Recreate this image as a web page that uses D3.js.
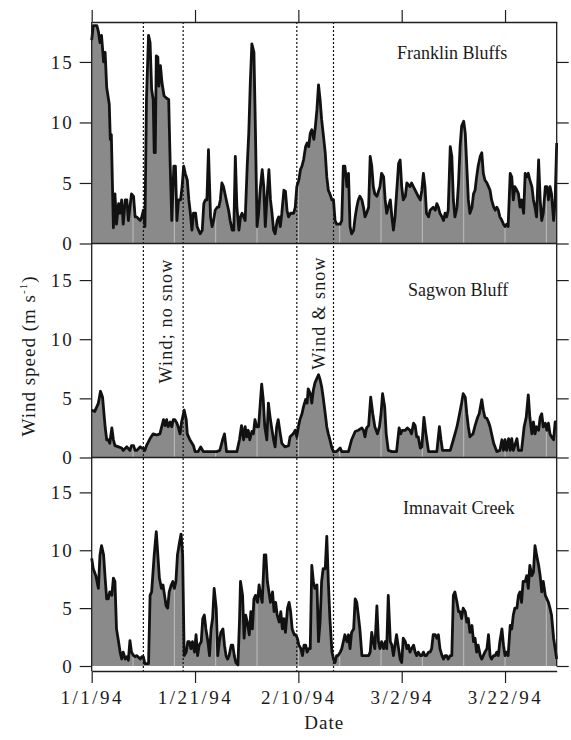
<!DOCTYPE html>
<html><head><meta charset="utf-8">
<script src="https://cdn.jsdelivr.net/npm/d3@7"></script>
<style>
body{margin:0;background:#fff}
svg{display:block}
text{font-family:"Liberation Serif","Times New Roman",serif;fill:#1a1a1a}
</style>
</head><body><svg id="chart" width="571" height="740"></svg>
<script>
// ---------- data ----------
const startUTC = Date.UTC(1994, 0, 1);
const endDay = 90;
const tickDays = [0, 20, 40, 60, 80];
const tickLabels = ["1/1/94", "1/21/94", "2/10/94", "3/2/94", "3/22/94"];
const yTicks = [0, 5, 10, 15];
const eventDays = [10.0, 17.7, 39.7, 46.8];
const gridDays = [8, 16, 24, 32, 40, 48, 56, 64, 72, 80, 88];
const stationNames = ["Franklin Bluffs", "Sagwon Bluff", "Imnavait Creek"];
const eventLabels = ["Wind; no snow", "Wind & snow"];
const yTitle = "Wind speed (m s";
const yTitleSup = "-1";
const xTitle = "Date";

// [day since 1/1/94, wind speed m/s]
const franklin = [[0,16.8],[0.3,18],[1,18],[1.3,17.5],[1.6,16.6],[1.9,17.2],[2.3,15],[2.6,15.8],[2.9,12.9],[3.4,11.5],[3.6,8.6],[3.8,9],[4.2,1.3],[4.5,4.1],[4.8,1.6],[5.2,3.3],[5.5,2.5],[5.8,3.6],[6.1,1.6],[6.5,3.6],[6.8,3.6],[7.1,1.9],[7.4,3],[7.7,4.1],[8.1,3.9],[8.4,2.2],[8.7,2.2],[9.4,1.9],[9.7,2.2],[10,2.75],[10.3,1.4],[10.6,11.9],[11,17.2],[11.3,16.6],[11.6,12.75],[11.9,11.9],[12.1,7.5],[12.3,7.5],[12.5,15.5],[12.8,15.4],[13,13],[13.3,14.7],[13.6,13.3],[14,12.2],[14.5,12],[14.9,11.9],[15.2,6.4],[15.5,1.9],[15.9,6.4],[16.2,6.4],[16.5,1.9],[16.8,3.6],[17.2,3.6],[17.5,4.7],[17.8,6.4],[18.1,5.8],[18.5,5.25],[18.8,3.6],[19.1,2.5],[19.4,1.1],[19.7,2.5],[20.1,2.5],[20.4,1.4],[20.7,1.1],[21,0.8],[21.4,1.1],[21.7,3.3],[22,3.6],[22.3,3.6],[22.6,7.75],[23,2.2],[23.3,1.4],[23.6,1.9],[23.9,2.75],[24.3,3],[24.6,3],[24.9,3.6],[25.2,5],[25.5,4.7],[25.9,3.9],[26.2,3.3],[26.5,2.75],[26.8,1.9],[27.2,1.1],[27.5,1.1],[27.8,7.2],[28.1,3],[28.5,1.1],[28.8,2.2],[29.1,2.5],[29.4,2.2],[29.7,1.9],[30.1,6.4],[30.4,9.1],[30.7,13.3],[31,16.5],[31.4,15.8],[31.7,9.1],[32,1.4],[32.3,2.5],[32.6,4.4],[33,6.1],[33.3,4.7],[33.6,1.4],[33.9,3.6],[34.3,6.1],[34.6,3.6],[34.9,2.5],[35.2,1.1],[35.5,0.8],[35.9,1.9],[36.2,2.2],[36.5,1.4],[36.8,2.5],[37.2,4.4],[37.5,4.3],[37.8,2.75],[38.1,2.2],[38.5,2.5],[39.1,2.5],[39.4,3],[39.7,4.7],[40.1,5.25],[40.4,6.1],[40.7,6.4],[41,6.9],[41.4,8],[41.7,8.3],[42,8],[42.3,9.1],[42.6,9.4],[43,8.6],[43.3,9.7],[43.6,11.1],[43.9,13.1],[44.2,11.9],[44.5,10.25],[44.8,9.1],[45.2,7.5],[45.5,5.5],[45.8,4.4],[46.1,4.1],[46.5,3.6],[46.8,3.6],[47.1,1.9],[47.4,1.6],[48.1,1.6],[48.4,1.9],[48.7,6.4],[49,6.4],[49.4,4.7],[49.7,5.8],[50,1.4],[50.3,0.8],[50.7,1.1],[51,2.2],[51.3,3],[51.6,3.6],[51.9,3.9],[52.3,3.6],[52.6,3],[52.9,2.2],[53.2,2.5],[53.6,3],[53.9,7.2],[54.2,6.4],[54.5,4.7],[54.8,4.1],[55.2,3.9],[55.8,4.7],[56.1,5.8],[56.5,5.5],[56.8,3.6],[57.1,2.5],[57.4,3],[57.8,3.6],[58.1,2.2],[58.4,1.1],[58.7,2.2],[59,4.1],[59.4,6.6],[59.7,6.9],[60,4.7],[60.3,3.6],[60.7,3.9],[61,5],[61.6,4.7],[61.9,5],[62.6,4.4],[63.2,3.9],[63.6,3.6],[63.9,4.4],[64.2,5.8],[64.5,4.7],[64.8,2.5],[65.2,2.2],[65.5,2.75],[66.1,3],[66.5,2.75],[66.8,3.3],[67.1,3],[67.4,2.5],[67.8,2.2],[68.1,1.9],[68.4,2.5],[68.7,2.2],[69,2.75],[69.4,8],[69.7,7.2],[70,3.6],[70.3,2.2],[70.7,3],[71,5],[71.3,8],[71.6,9.7],[72,10.1],[72.3,9.1],[72.6,6.4],[72.9,3.6],[73.2,2.5],[73.6,3],[73.9,4.1],[74.2,4.4],[74.5,5.5],[74.8,6.4],[75.2,7.2],[75.5,7.5],[75.8,5.8],[76.1,5.25],[76.5,5],[76.8,4.7],[77.1,4.4],[77.4,3.6],[77.8,3],[78.1,2.75],[78.4,3],[78.7,2.75],[79,2.2],[79.4,1.9],[79.7,1.6],[80,1.4],[80.3,1.6],[80.6,1.4],[81,5.8],[81.3,5.5],[81.6,3.6],[81.9,4.7],[82.3,4.4],[82.6,4.1],[82.9,3],[83.2,3.6],[83.6,2.5],[83.9,5.8],[84.2,5.5],[84.5,5.8],[84.8,5.25],[85.2,4.7],[85.5,3.6],[85.8,3],[86.1,2.2],[86.5,6.9],[86.8,3.6],[87.1,1.9],[87.4,2.5],[87.8,4.7],[88.1,4.7],[88.4,3.6],[88.7,4.7],[89,4.1],[89.4,1.9],[89.7,3.6],[90,8.3]];

const sagwon = [[0,4],[0.6,3.9],[1.3,4.6],[1.7,5.6],[2.1,5.1],[2.6,2.6],[2.9,1.5],[3.2,1.5],[3.5,1.2],[3.9,2.5],[4.2,1.5],[4.5,1],[5.2,0.9],[5.8,0.8],[6.1,0.6],[6.8,0.9],[7.4,0.6],[7.7,1],[8.1,1],[8.4,0.6],[8.7,0.6],[9.4,0.9],[9.7,0.8],[10,0.8],[10.3,0.6],[10.6,1],[11.3,1.6],[11.9,2],[12.6,1.9],[13.2,2],[13.9,3.2],[14.2,2.7],[14.5,3.2],[14.8,2.6],[15.2,3],[15.5,2.6],[15.8,3.2],[16.1,3.2],[16.5,2.9],[16.8,2.5],[17.1,2],[17.4,3],[17.9,4],[18.3,3.2],[18.5,2],[19,1.5],[19.7,1],[20,0.5],[20.6,0.5],[21.1,0.9],[21.6,0.5],[22.9,0.5],[24.2,0.5],[24.8,0.6],[25.4,1.6],[25.7,2],[26.1,0.5],[27.4,0.5],[28.1,0.5],[28.6,1.5],[29,2.7],[29.4,1.5],[29.7,2.6],[30,1.75],[30.3,2.3],[30.6,1.5],[31,2.2],[31.3,2],[31.6,3.2],[31.9,2.6],[32.3,2.6],[32.6,4.4],[32.9,6.2],[33.2,4.9],[33.5,2.6],[33.9,1.5],[34.2,4.6],[34.5,3.5],[34.8,2.6],[35.2,1.5],[35.5,0.9],[35.8,2.6],[36.1,3.2],[36.5,2],[36.8,1.2],[37.4,0.9],[38.1,1],[38.4,1.75],[39,2],[39.4,2.3],[39.7,1.75],[40,2.6],[40.3,3.2],[40.7,3.7],[41,4.3],[41.4,4.9],[41.7,4.6],[41.9,5.8],[42.3,5.4],[42.6,4.6],[42.9,5.7],[43.2,6.3],[43.5,6.6],[43.9,7],[44.2,6.6],[44.5,6],[44.8,5.1],[45.2,3.7],[45.5,2.6],[45.8,2],[46.1,1.5],[46.5,0.8],[46.8,0.5],[47.4,0.5],[48.1,0.8],[48.4,0.5],[49.7,0.5],[50.3,1.5],[51,2.2],[51.6,2.3],[52.3,2.5],[52.6,2.3],[52.9,1.75],[53.2,2.5],[53.6,2.7],[54,5.1],[54.4,3.7],[54.8,2.6],[55.3,2],[55.7,2.6],[56,3.7],[56.3,5.4],[56.7,4.3],[57,2],[57.4,0.6],[58.1,0.5],[59,0.5],[59.5,2.5],[59.8,2],[60.1,2.3],[60.7,2.3],[61.1,2.5],[61.6,2.3],[61.9,2],[62.3,2.9],[62.6,2.7],[62.9,1.75],[63.2,1.75],[63.6,0.8],[63.9,0.9],[64.3,3.4],[64.7,2],[65.2,0.5],[66.1,0.5],[66.8,0.5],[67.3,2.6],[67.6,1.5],[67.9,0.6],[68.7,0.6],[69.4,0.6],[70,1.5],[70.7,2.6],[71.2,3.7],[71.6,4.6],[71.9,5.4],[72.3,5.1],[72.6,3.7],[72.9,2.6],[73.2,1.75],[73.8,2],[74.2,2.7],[74.7,3.4],[75,3.7],[75.5,4.9],[75.8,4],[76.1,3.4],[76.5,3.3],[76.8,3],[77.1,2.6],[77.4,2],[77.8,1.2],[78.4,0.5],[79,0.6],[79.4,1.5],[79.7,0.6],[80,1.5],[80.3,0.6],[80.7,1.6],[81,0.6],[81.3,1.6],[81.6,0.6],[82.3,1.6],[82.6,0.6],[83.2,0.6],[83.7,2.6],[84.1,3.4],[84.5,5.3],[84.8,3.4],[85.2,2],[85.5,3],[85.8,2],[86.1,2.6],[86.5,2.3],[86.8,3.4],[87.1,3.7],[87.4,2.6],[87.8,2.9],[88.1,2.3],[88.4,2.9],[88.7,2],[89,1.75],[89.4,1.5],[89.7,3],[90,3]];

const imnavait = [[0,9.3],[0.3,8.4],[0.8,7.8],[1.3,6.7],[1.6,9.6],[1.9,10.4],[2.3,9.6],[2.6,7.6],[2.9,5.8],[3.2,5.8],[3.5,6.4],[3.9,6.1],[4.2,7.6],[4.5,7.3],[4.8,3.2],[5.2,2.1],[5.5,1.2],[5.8,0.6],[6.1,1.2],[6.5,0.6],[6.8,0.8],[7.1,0.5],[7.4,2.2],[7.7,1.2],[8.1,0.9],[8.4,0.8],[8.7,0.9],[9.4,0.6],[9.7,0.8],[10,0.8],[10.3,0.2],[11,0.2],[11.3,6.1],[11.6,6.4],[12.1,9.6],[12.5,11.6],[12.8,9.6],[13.1,7.6],[13.5,6.7],[13.8,7],[14.1,6.1],[14.4,5.2],[14.7,5],[15,6.4],[15.4,7],[15.7,7.3],[16,6.7],[16.3,7.3],[16.6,9.6],[17,10.7],[17.3,11.4],[17.6,9.6],[17.9,0.9],[18.3,1.2],[18.6,2.1],[18.9,2.1],[19.2,1.5],[19.5,2.1],[19.9,1.2],[20.2,2.7],[20.5,0.9],[20.8,1.8],[21.2,2.1],[21.5,4.1],[21.8,4.4],[22.1,3.2],[22.5,2.1],[22.8,0.9],[23.1,3.2],[23.4,4.1],[23.7,6.7],[24.1,5],[24.4,0.9],[24.7,2.1],[25,2.9],[25.4,3.2],[25.7,1.8],[26,0.9],[26.3,0.6],[26.6,0.9],[27,1.8],[27.3,1.8],[27.6,0.9],[27.9,0.3],[28.3,0.1],[28.6,3.8],[28.8,7.3],[29.2,6.1],[29.5,2.4],[29.8,4.4],[30.1,3.8],[30.5,2.7],[30.8,4.7],[31.1,3.2],[31.4,5.8],[31.7,6.1],[32.1,5.5],[32.4,7],[32.7,6.1],[33,5.5],[33.4,9.6],[33.7,9.6],[34,7.3],[34.3,6.4],[34.6,5.5],[35,6.4],[35.3,4.7],[35.6,5.5],[35.9,4.4],[36.3,3.8],[36.6,4.7],[36.9,3.2],[37.2,4.1],[37.5,2.9],[37.9,5],[38.2,5.5],[38.5,4.7],[38.8,3.2],[39.2,2.7],[39.5,2.7],[39.8,2.4],[40.1,1.8],[40.5,1.5],[40.8,0.9],[41.1,1.8],[41.4,1.8],[41.7,1.2],[42,1.5],[42.3,1.5],[42.6,8.7],[42.9,7.3],[43.2,6.7],[43.6,7],[43.9,2.1],[44.2,3.8],[44.5,7.3],[44.8,8.4],[45.2,8.4],[45.5,11.2],[45.8,7.3],[46.1,4.1],[46.5,1.2],[46.8,0.6],[47.1,0.3],[47.4,0.9],[47.7,0.9],[48.1,1.2],[48.4,1.5],[48.7,2.1],[49,2.7],[49.4,2.1],[49.7,2.7],[50,1.5],[50.3,2.9],[50.7,3.2],[51,5.8],[51.3,5.5],[51.6,4.4],[51.9,3.2],[52.3,0.9],[52.6,0.9],[53.2,0.9],[53.6,0.9],[53.9,1.2],[54.2,2.9],[54.5,2.1],[54.8,1.5],[55.2,5.2],[55.5,2.1],[55.8,1.5],[56.1,2.1],[56.5,1.5],[56.8,2.1],[57.1,1.5],[57.4,6.1],[57.8,2.1],[58.1,1.8],[58.4,0.9],[58.7,1.8],[59,2.7],[59.4,1.5],[59.7,0.6],[60,0.3],[60.3,2.4],[60.7,2.1],[61,1.5],[61.3,1.8],[61.6,1.2],[61.9,1.5],[62.3,1.8],[62.6,1.2],[62.9,0.9],[63.2,1.2],[63.6,0.9],[63.9,0.9],[64.2,1.2],[64.5,0.9],[64.8,0.9],[65.2,1.2],[65.5,1.2],[65.8,1.5],[66.1,2.7],[66.5,2.7],[66.8,2.4],[67.1,2.7],[67.4,1.5],[67.8,0.9],[68.1,0.6],[68.4,0.9],[68.7,0.9],[69,0.6],[69.4,0.9],[69.7,0.9],[70,6.1],[70.3,6.4],[70.7,5.5],[71,4.7],[71.3,4.7],[71.6,4.1],[71.9,5],[72.3,4.7],[72.6,3.8],[72.9,4.1],[73.2,2.9],[73.6,3.5],[73.9,2.1],[74.2,2.4],[74.5,1.2],[74.8,1.8],[75.2,0.9],[75.5,0.6],[75.8,0.9],[76.1,1.2],[76.5,1.5],[76.8,2.7],[77.1,0.9],[77.4,0.6],[77.8,0.9],[78.1,0.9],[78.4,1.2],[78.7,0.9],[79,2.1],[79.4,3.2],[79.7,1.8],[80,0.9],[80.3,1.2],[80.6,0.9],[81,3.5],[81.3,3.2],[81.6,4.4],[81.9,5],[82.3,5],[82.6,6.1],[82.9,6.4],[83.2,5.5],[83.5,7.3],[83.9,7.3],[84.2,7.8],[84.5,6.7],[84.8,8.7],[85.2,7.8],[85.5,8.1],[85.8,10.4],[86.1,9.6],[86.5,8.7],[86.8,7.8],[87.1,6.4],[87.4,7.3],[87.8,6.1],[88.1,5.8],[88.4,5.5],[88.7,5],[89,4.4],[89.4,2.4],[89.7,1.5],[90,0.6]];

const series = [franklin, sagwon, imnavait];

// ---------- layout ----------
const svg = d3.select("#chart");
const plotL = 91.7, plotR = 556.7, plotT = 22, axisY = 671;
const panels = [
  {top: 22, zero: 243.5, max: 18.3, nameX: 397, nameY: 59},
  {top: 244, zero: 457.5, max: 18.05, nameX: 408, nameY: 296},
  {top: 458, zero: 666, max: 17.97, nameX: 403, nameY: 514}
];
const dayToDate = d => new Date(startUTC + d * 864e5);
const x = d3.scaleUtc().domain([dayToDate(0), dayToDate(endDay)]).range([plotL, plotR]);

const ink = "#1e1e1e";
const fillCol = "#8a8a8a";

panels.forEach((p, i) => {
  const y = d3.scaleLinear().domain([0, p.max]).range([p.zero, p.top]);
  const data = series[i];
  const area = d3.area().x(d => x(dayToDate(d[0]))).y0(p.zero).y1(d => y(d[1]));
  const line = d3.line().x(d => x(dayToDate(d[0]))).y(d => y(d[1]));
  const g = svg.append("g");

  const clipId = "clip" + i;
  g.append("clipPath").attr("id", clipId).append("path").datum(data).attr("d", area);
  g.append("path").datum(data).attr("d", area).attr("fill", fillCol);
  g.append("g").attr("clip-path", `url(#${clipId})`)
    .selectAll("line").data(gridDays).join("line")
    .attr("x1", d => x(dayToDate(d))).attr("x2", d => x(dayToDate(d)))
    .attr("y1", p.top).attr("y2", p.zero)
    .attr("stroke", "#fff").attr("stroke-opacity", 0.45).attr("stroke-width", 1);
  g.append("path").datum(data).attr("d", line)
    .attr("fill", "none").attr("stroke", "#111").attr("stroke-width", 2.8)
    .attr("stroke-linejoin", "round");

  const la = g.append("g").attr("transform", `translate(${plotL},0)`)
    .call(d3.axisLeft(y).tickValues(yTicks).tickSize(12).tickSizeOuter(0).tickPadding(6).tickFormat(d3.format("d")));
  la.select(".domain").remove();
  la.selectAll("line").attr("stroke", ink).attr("stroke-width", 1.2);
  la.selectAll("text").attr("font-size", 19).attr("letter-spacing", "2px")
    .style("font-family", '"Liberation Serif",serif').attr("fill", ink);
  const ra = g.append("g").attr("transform", `translate(${plotR},0)`)
    .call(d3.axisRight(y).tickValues(yTicks).tickSize(12).tickSizeOuter(0).tickFormat(""));
  ra.select(".domain").remove();
  ra.selectAll("line").attr("stroke", ink).attr("stroke-width", 1.2);

  if (i < 2) {
    g.append("line").attr("x1", plotL).attr("x2", plotR).attr("y1", p.zero).attr("y2", p.zero)
      .attr("stroke", ink).attr("stroke-width", 1.6);
  }
  g.append("text").attr("x", p.nameX).attr("y", p.nameY).attr("font-size", 18)
    .text(stationNames[i]);
});

svg.append("g").selectAll("line").data(eventDays).join("line")
  .attr("x1", d => x(dayToDate(d))).attr("x2", d => x(dayToDate(d)))
  .attr("y1", plotT).attr("y2", axisY)
  .attr("stroke", "#111").attr("stroke-width", 1.2).attr("stroke-dasharray", "2,2");

const evPos = [{x: 172, y: 321}, {x: 325, y: 313}];
eventLabels.forEach((t, i) => {
  svg.append("text").attr("transform", `translate(${evPos[i].x},${evPos[i].y}) rotate(-90)`)
    .attr("text-anchor", "middle").attr("font-size", 18).attr("letter-spacing", "1.2px").text(t);
});

svg.append("line").attr("x1", plotL).attr("x2", plotL).attr("y1", plotT).attr("y2", axisY)
  .attr("stroke", ink).attr("stroke-width", 1.3);
svg.append("line").attr("x1", plotR).attr("x2", plotR).attr("y1", plotT).attr("y2", panels[2].zero)
  .attr("stroke", ink).attr("stroke-width", 1.3);

const tickDates = tickDays.map(dayToDate);
const ta = svg.append("g").attr("transform", `translate(0,${plotT})`)
  .call(d3.axisTop(x).tickValues(tickDates).tickSize(12).tickSizeOuter(0).tickFormat(""));
ta.select(".domain").attr("stroke", ink).attr("stroke-width", 1.3);
ta.selectAll("line").attr("stroke", ink).attr("stroke-width", 1.2);

const ba = svg.append("g").attr("transform", `translate(0,${axisY})`)
  .call(d3.axisBottom(x).tickValues(tickDates).tickSize(12).tickSizeOuter(0).tickPadding(8)
    .tickFormat((d, i) => tickLabels[i]));
ba.select(".domain").attr("stroke", ink).attr("stroke-width", 1.3);
ba.selectAll("line").attr("stroke", ink).attr("stroke-width", 1.2);
ba.selectAll("text").attr("font-size", 19).attr("letter-spacing", "2.5px")
  .style("font-family", '"Liberation Serif",serif').attr("fill", ink);

svg.append("text").attr("x", (plotL + plotR) / 2).attr("y", 729).attr("text-anchor", "middle")
  .attr("font-size", 19).attr("letter-spacing", "1px").text(xTitle);

const yt = svg.append("text").attr("transform", "translate(35,356) rotate(-90)")
  .attr("text-anchor", "middle").attr("font-size", 19).attr("letter-spacing", "1px");
yt.append("tspan").text(yTitle);
yt.append("tspan").attr("dy", -8).attr("font-size", 11).text(yTitleSup);
yt.append("tspan").attr("dy", 8).text(")");
</script>
</body></html>
